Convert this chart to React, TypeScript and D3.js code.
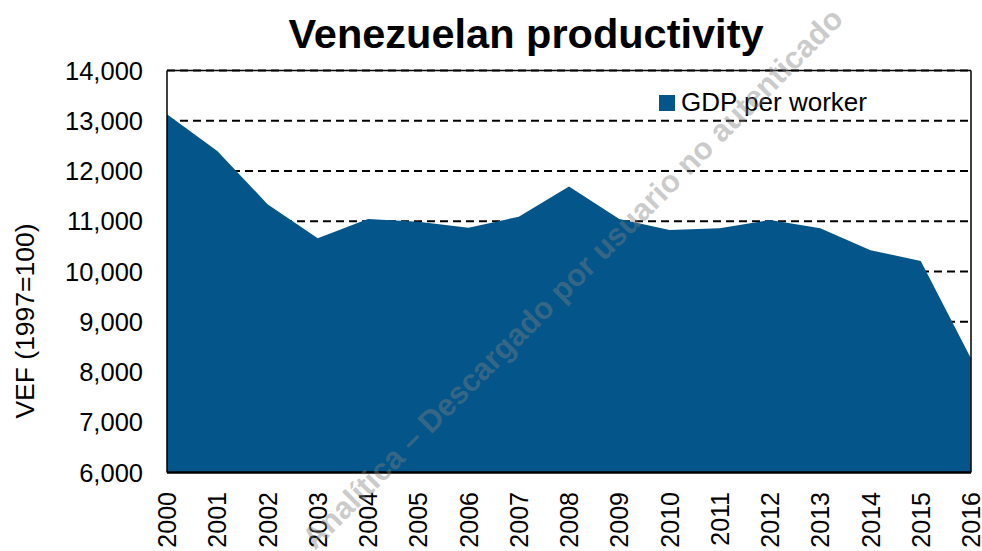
import React from "react";
import * as d3 from "d3";

const years: number[] = [2000, 2001, 2002, 2003, 2004, 2005, 2006, 2007, 2008, 2009, 2010, 2011, 2012, 2013, 2014, 2015, 2016];
const gdpPerWorker: number[] = [13130, 12400, 11340, 10660, 11045, 10990, 10870, 11090, 11690, 11045, 10826, 10860, 11025, 10860, 10425, 10210, 8270];
const yTicks: number[] = [6000, 7000, 8000, 9000, 10000, 11000, 12000, 13000, 14000];
const title = "Venezuelan productivity";
const yLabel = "VEF (1997=100)";
const seriesName = "GDP per worker";
const watermark = "Analítica – Descargado por usuario no autenticado";

const W = 982, H = 551;
const left = 167, right = 971, top = 70.5, bottom = 472.5;
const FONT = "'Liberation Sans', Arial, sans-serif";
const BLUE = "#03558A";

export default function App() {
  const x = d3.scaleLinear().domain([2000, 2016]).range([left, right]);
  const y = d3.scaleLinear().domain([6000, 14000]).range([bottom, top]);
  const fmt = d3.format(",");
  const area = d3
    .area<number>()
    .x((_, i) => x(years[i]))
    .y0(y(6000))
    .y1((d) => y(d))(gdpPerWorker) as string;

  return (
    <svg width={W} height={H} style={{ position: "absolute", left: 0, top: 0, background: "#fff" }} fontFamily={FONT}>
      {yTicks.filter((t) => t > 6000).map((t) => (
        <line key={"g" + t} x1={left} x2={right} y1={y(t)} y2={y(t)} stroke="#000" strokeWidth={1.8} strokeDasharray="8 5" />
      ))}
      <path d={area} fill={BLUE} />
      <line x1={left} x2={right} y1={top} y2={top} stroke="#000" strokeWidth={1.5} />
      <line x1={left} x2={left} y1={top} y2={bottom} stroke="#000" strokeWidth={1.5} />
      <line x1={right} x2={right} y1={top} y2={bottom} stroke="#000" strokeWidth={1.5} />
      <line x1={left} x2={right} y1={bottom} y2={bottom} stroke="#000" strokeWidth={2.5} />
      {yTicks.map((t) => (
        <text key={"y" + t} x={143} y={y(t)} dy="0.36em" textAnchor="end" fontSize={25.5} fill="#000">
          {fmt(t)}
        </text>
      ))}
      {years.map((yr) => (
        <text key={"x" + yr} transform={`translate(${x(yr)},492) rotate(-90)`} dy="0.36em" textAnchor="end" fontSize={25} fill="#000">
          {yr}
        </text>
      ))}
      <text transform="translate(24,321) rotate(-90)" dy="0.36em" textAnchor="middle" fontSize={26.5} fill="#000">
        {yLabel}
      </text>
      <text x={526} y={48} textAnchor="middle" fontSize={41.5} fontWeight="bold" fill="#000">
        {title}
      </text>
      <rect x={659} y={95} width={16} height={16} fill={BLUE} />
      <text x={681} y={111} fontSize={26} fill="#000">{seriesName}</text>
      <text transform="translate(572,278) rotate(-45)" dy="0.36em" textAnchor="middle" fontSize={31} fontWeight="bold" fill="#808080" opacity={0.4}>
        {watermark}
      </text>
    </svg>
  );
}
